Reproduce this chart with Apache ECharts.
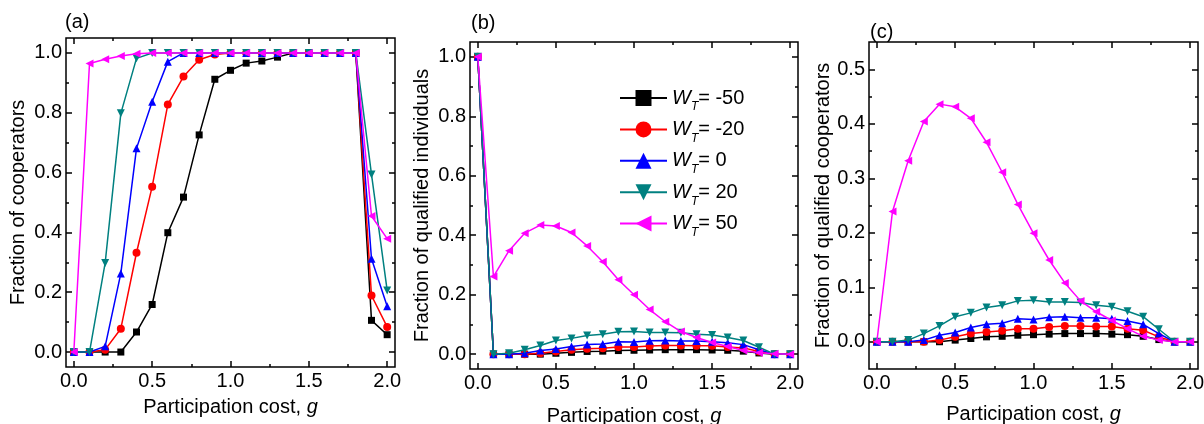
<!DOCTYPE html>
<html>
<head>
<meta charset="utf-8">
<script src="https://cdn.jsdelivr.net/npm/echarts@6/dist/echarts.min.js"></script>
<style>
html,body{margin:0;padding:0;background:#fff;}
#c{width:1204px;height:424px;}
</style>
</head>
<body>
<div id="c"></div>
<script>
// ---------- data ----------
const gValues = [0,0.1,0.2,0.3,0.4,0.5,0.6,0.7,0.8,0.9,1.0,1.1,1.2,1.3,1.4,1.5,1.6,1.7,1.8,1.9,2.0];
const seriesNames = ['-50','-20','0','20','50'];

// (a) Fraction of cooperators
const coopM50 = [0,0,0,0,0.067,0.159,0.399,0.518,0.726,0.912,0.942,0.966,0.973,0.986,1,1,1,1,1,0.106,0.058];
const coopM20 = [0,0,0.008,0.078,0.332,0.553,0.828,0.921,0.977,0.995,1,1,1,1,1,1,1,1,1,0.189,0.084];
const coop0   = [0,0,0.019,0.263,0.681,0.837,0.971,1,1,1,1,1,1,1,1,1,1,1,1,0.312,0.153];
const coop20  = [0,0,0.298,0.798,0.982,1,1,1,1,1,1,1,1,1,1,1,1,1,1,0.594,0.206];
const coop50  = [0,0.965,0.979,0.99,0.997,1,1,1,1,1,1,1,1,1,1,1,1,1,1,0.455,0.379];

// (b) Fraction of qualified individuals
const indM50 = [1,0,0,0,0,0.003,0.006,0.009,0.010,0.012,0.013,0.014,0.015,0.015,0.015,0.014,0.013,0.010,0.004,0,0];
const indM20 = [1,0,0,0,0.003,0.009,0.015,0.018,0.020,0.024,0.024,0.027,0.029,0.029,0.028,0.028,0.024,0.021,0.009,0,0];
const ind0   = [1,0,0,0.003,0.012,0.017,0.026,0.032,0.034,0.042,0.041,0.045,0.046,0.044,0.044,0.042,0.038,0.032,0.015,0,0];
const ind20  = [1,0,0.003,0.015,0.029,0.046,0.053,0.063,0.067,0.075,0.076,0.073,0.073,0.072,0.067,0.064,0.056,0.046,0.023,0,0];
const ind50  = [1,0.261,0.348,0.407,0.434,0.431,0.409,0.364,0.311,0.25,0.2,0.15,0.109,0.076,0.056,0.039,0.026,0.012,0.005,0.001,0];

// (c) Fraction of qualified cooperators
const qcM50 = [0,0,0,0,0,0.003,0.006,0.009,0.010,0.012,0.013,0.014,0.015,0.015,0.015,0.014,0.013,0.010,0.004,0,0];
const qcM20 = [0,0,0,0,0.003,0.009,0.015,0.018,0.020,0.024,0.024,0.027,0.029,0.029,0.028,0.028,0.024,0.021,0.009,0,0];
const qc0   = [0,0,0,0.003,0.012,0.017,0.026,0.032,0.034,0.042,0.041,0.045,0.046,0.044,0.044,0.042,0.038,0.032,0.015,0,0];
const qc20  = [0,0,0.003,0.015,0.029,0.046,0.053,0.063,0.067,0.075,0.076,0.073,0.073,0.072,0.067,0.064,0.056,0.046,0.023,0,0];
const qc50  = [0,0.239,0.332,0.404,0.436,0.431,0.41,0.366,0.311,0.252,0.199,0.15,0.108,0.075,0.055,0.039,0.024,0.010,0.003,0,0];

// tick labels
const xMajorTicks = [0,0.5,1.0,1.5,2.0];
const xMinorTicks = [0.25,0.75,1.25,1.75];
const yMajorTicksAB = [0,0.2,0.4,0.6,0.8,1.0];
const yMinorTicksAB = [0.1,0.3,0.5,0.7,0.9];
const yMajorTicksC = [0,0.1,0.2,0.3,0.4,0.5];
const yMinorTicksC = [0.05,0.15,0.25,0.35,0.45];

const panelLabels = ['(a)','(b)','(c)'];
const yTitles = ['Fraction of cooperators','Fraction of qualified individuals','Fraction of qualified cooperators'];

// ---------- styles ----------
const FONT = 'Liberation Sans, Arial, sans-serif';
const FS = 20;
const colors = ['#000000','#ff0000','#0000ff','#008080','#ff00ff'];
const symbols = ['rect','circle','triangle','triangle','triangle'];
const rotates = [0,0,0,180,90];
const sizes = [7,8,8,8,8];

const rects = [
  {left:66, top:38, width:329, height:329},
  {left:470, top:42, width:328, height:327},
  {left:869, top:42, width:329, height:327}
];
const xNameGap = [30,37,35];
const yNameGap = [38,38,34];
const yRanges = [[-0.05,1.05],[-0.05,1.05],[-0.05,0.55]];
const yTicks = [[yMajorTicksAB,yMinorTicksAB],[yMajorTicksAB,yMinorTicksAB],[yMajorTicksC,yMinorTicksC]];

const grids = [], xAxes = [], yAxes = [], series = [];
const fmt = v => Number(v).toFixed(1);
const tickStyle = {color:'#000', width:1.5};

rects.forEach((r) => grids.push(Object.assign({show:true, borderColor:'#000', borderWidth:1.5, backgroundColor:'transparent', containLabel:false, outerBoundsMode:'none'}, r)));
rects.forEach((r) => grids.push(Object.assign({show:false, containLabel:false, outerBoundsMode:'none'}, r)));

rects.forEach((r, gi) => {
  const mg = gi + 3; // overlay grid for minor ticks
  const xBase = {type:'value', min:-0.05, max:2.05, splitLine:{show:false}, axisLine:{show:false, onZero:false}};
  const yBase = {type:'value', min:yRanges[gi][0], max:yRanges[gi][1], splitLine:{show:false}, axisLine:{show:false, onZero:false}};
  const [maj, mnr] = yTicks[gi];

  const xMain = xAxes.length;
  xAxes.push(Object.assign({}, xBase, {
    gridIndex:gi, position:'bottom',
    name:'{n|Participation cost, }{g|g}', nameLocation:'middle', nameGap:xNameGap[gi],
    nameTextStyle:{rich:{n:{fontFamily:FONT,fontSize:FS,color:'#000'},g:{fontFamily:FONT,fontSize:FS,fontStyle:'italic',color:'#000'}}},
    axisTick:{show:true,inside:true,length:6,lineStyle:tickStyle,customValues:xMajorTicks},
    axisLabel:{show:true,customValues:xMajorTicks,formatter:fmt,fontFamily:FONT,fontSize:FS,color:'#000',margin:4}
  }));
  xAxes.push(Object.assign({}, xBase, {gridIndex:gi, position:'top',
    axisTick:{show:true,inside:true,length:6,lineStyle:tickStyle,customValues:xMajorTicks},
    axisLabel:{show:false}}));
  xAxes.push(Object.assign({}, xBase, {gridIndex:mg, position:'bottom',
    axisTick:{show:true,inside:true,length:3,lineStyle:tickStyle,customValues:xMinorTicks},
    axisLabel:{show:false}}));
  xAxes.push(Object.assign({}, xBase, {gridIndex:mg, position:'top',
    axisTick:{show:true,inside:true,length:3,lineStyle:tickStyle,customValues:xMinorTicks},
    axisLabel:{show:false}}));

  const yMain = yAxes.length;
  yAxes.push(Object.assign({}, yBase, {
    gridIndex:gi, position:'left',
    name:yTitles[gi], nameLocation:'middle', nameGap:yNameGap[gi],
    nameTextStyle:{fontFamily:FONT,fontSize:FS,color:'#000'},
    axisTick:{show:true,inside:true,length:6,lineStyle:tickStyle,customValues:maj},
    axisLabel:{show:true,customValues:maj,formatter:fmt,fontFamily:FONT,fontSize:FS,color:'#000',margin:4}
  }));
  yAxes.push(Object.assign({}, yBase, {gridIndex:gi, position:'right',
    axisTick:{show:true,inside:true,length:6,lineStyle:tickStyle,customValues:maj},
    axisLabel:{show:false}}));
  yAxes.push(Object.assign({}, yBase, {gridIndex:mg, position:'left',
    axisTick:{show:true,inside:true,length:3,lineStyle:tickStyle,customValues:mnr},
    axisLabel:{show:false}}));
  yAxes.push(Object.assign({}, yBase, {gridIndex:mg, position:'right',
    axisTick:{show:true,inside:true,length:3,lineStyle:tickStyle,customValues:mnr},
    axisLabel:{show:false}}));

  const dataSets = [
    [coopM50,coopM20,coop0,coop20,coop50],
    [indM50,indM20,ind0,ind20,ind50],
    [qcM50,qcM20,qc0,qc20,qc50]
  ][gi];
  dataSets.forEach((arr, si) => {
    series.push({
      type:'line', name:seriesNames[si], xAxisIndex:xMain, yAxisIndex:yMain,
      data: gValues.map((gv, i) => [gv, arr[i]]),
      symbol:symbols[si], symbolSize:sizes[si], symbolRotate:rotates[si],
      showAllSymbol:true, animation:false,
      lineStyle:{color:colors[si], width:1.5},
      itemStyle:{color:colors[si], borderWidth:0},
      z: 2 + si
    });
  });
});

const option = {
  backgroundColor:'#fff',
  animation:false,
  title: [
    {text:panelLabels[0], left:60, top:7, textStyle:{fontFamily:FONT,fontSize:FS,fontWeight:'normal',color:'#000'}},
    {text:panelLabels[1], left:466, top:8, textStyle:{fontFamily:FONT,fontSize:FS,fontWeight:'normal',color:'#000'}},
    {text:panelLabels[2], left:865, top:17, textStyle:{fontFamily:FONT,fontSize:FS,fontWeight:'normal',color:'#000'}}
  ],
  grid: grids,
  xAxis: xAxes,
  yAxis: yAxes,
  legend: {
    data: seriesNames,
    orient:'vertical', left:614, top:83,
    itemWidth:47, itemHeight:20, itemGap:6.4,
    formatter: name => '{w|W}{s|T}{n|= ' + name + '}',
    textStyle:{
      fontFamily:FONT, fontSize:FS, color:'#000',
      rich:{
        w:{fontFamily:FONT,fontSize:FS,fontStyle:'italic',color:'#000',lineHeight:30,verticalAlign:'middle'},
        s:{fontFamily:FONT,fontSize:12,fontStyle:'italic',color:'#000',lineHeight:6,verticalAlign:'bottom'},
        n:{fontFamily:FONT,fontSize:FS,color:'#000',lineHeight:30,verticalAlign:'middle'}
      }
    }
  },
  series: series
};

const chart = echarts.init(document.getElementById('c'), null, {renderer:'canvas'});
chart.setOption(option);
</script>
</body>
</html>
